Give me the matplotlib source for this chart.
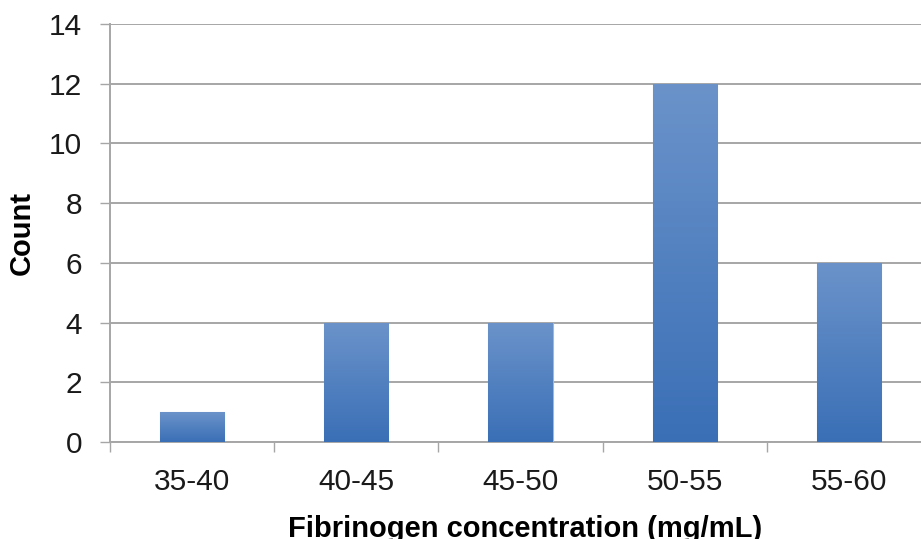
import matplotlib
matplotlib.use("Agg")
import matplotlib.pyplot as plt
import numpy as np
from matplotlib.colors import LinearSegmentedColormap

categories = ["35-40", "40-45", "45-50", "50-55", "55-60"]
counts = [1, 4, 4, 12, 6]
yticks = [0, 2, 4, 6, 8, 10, 12, 14]

plt.rcParams['font.family'] = ['Liberation Sans', 'DejaVu Sans']

W, H = 921, 539
fig = plt.figure(figsize=(W / 100, H / 100), dpi=100)
left, right, top, bottom = 110, 931, 24, 442
ax = fig.add_axes([left / W, 1 - bottom / H, (right - left) / W, (bottom - top) / H])

x = np.arange(len(categories))
bars = ax.bar(x, counts, width=0.39, color="#4F81BD", edgecolor="#9DB7DE", linewidth=0.8, zorder=3)

cmap = LinearSegmentedColormap.from_list("g", ["#3A6FB6", "#6B93CA"])
grad = np.linspace(0, 1, 256).reshape(-1, 1)
for b in bars:
    x0, y0 = b.get_x(), b.get_y()
    w, h = b.get_width(), b.get_height()
    im = ax.imshow(grad, cmap=cmap, aspect="auto", origin="lower",
                   extent=[x0, x0 + w, y0, y0 + h], zorder=3.5)
    im.set_clip_path(b)

ax.set_xlim(-0.5, len(categories) - 0.5)
ax.set_ylim(0, 14)
ax.set_yticks(yticks)
ax.set_xticks(x)
ax.set_xticklabels(categories)
ax.set_xticks(np.arange(len(categories) + 1) - 0.5, minor=True)

ax.grid(axis="y", color="#A6A6A6", linewidth=1.4, zorder=0)
for s in ["top", "right"]:
    ax.spines[s].set_visible(False)
for s in ["left", "bottom"]:
    ax.spines[s].set_color("#A6A6A6")
    ax.spines[s].set_linewidth(1.4)

ax.tick_params(axis="y", length=7.2, width=1.0, color="#A6A6A6", pad=13, labelsize=21.5, labelcolor="#1a1a1a")
ax.tick_params(axis="x", which="major", length=0, pad=19, labelsize=21.5, labelcolor="#1a1a1a")
ax.tick_params(axis="x", which="minor", length=7.2, width=1.0, color="#A6A6A6")

fig.text(22 / W, 1 - 233 / H, "Count", rotation=90, ha="center", va="center",
         fontsize=21, fontweight="bold", color="#000000")
fig.text(525 / W, 1 - 537 / H, "Fibrinogen concentration (mg/mL)", ha="center", va="baseline",
         fontsize=21, fontweight="bold", color="#000000")

fig.savefig("out.png", dpi=100)
